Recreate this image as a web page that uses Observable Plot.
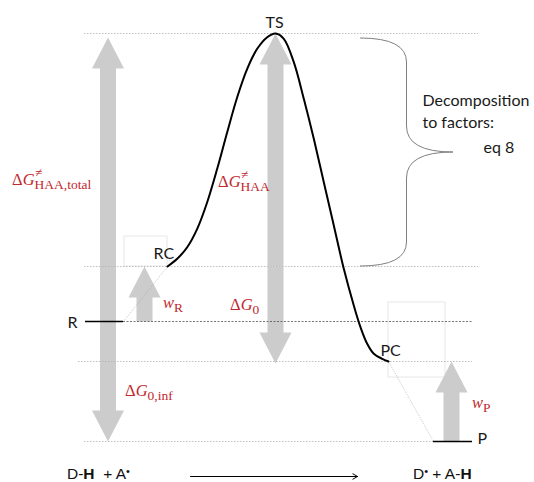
<!DOCTYPE html>
<html><head><meta charset="utf-8">
<script src="https://cdn.jsdelivr.net/npm/d3@7"></script>
<script src="https://cdn.jsdelivr.net/npm/@observablehq/plot@0.6"></script>
<style>
html,body{margin:0;padding:0;background:#fff;}
#chart svg{display:block;}
</style>
</head><body><div id="chart"></div>
<script>
// ---- Stationary points (reaction coordinate, relative free energy) ----
const stateNames  = ["R", "RC", "TS", "PC", "P"];
const stateCoord  = [10.4, 16.7, 27.5, 38.8, 45.2];
const stateEnergy = [0, 5.5, 28.8, -4.0, -12.0];

// ---- Free-energy profile RC -> TS -> PC ----
const profileCoord  = [16.7, 17.67, 18.67, 19.67, 20.67, 21.67, 22.67, 23.67, 24.67, 25.67, 26.67, 27.5, 28.33, 29.33, 30.33, 31.33, 32.33, 33.33, 34.33, 35.33, 36.0, 36.67, 37.33, 38.17, 38.8];
const profileEnergy = [5.5, 6.27, 7.43, 9.27, 11.93, 15.27, 18.93, 22.43, 25.27, 27.27, 28.43, 28.8, 28.27, 25.93, 22.27, 18.27, 13.93, 9.6, 5.27, 1.6, -0.57, -2.23, -3.23, -3.73, -4.0];

// ---- Separated reactants / products plateaus ----
const plateauNames = ["R", "P"];
const plateauStart = [8.5, 43.3];
const plateauEnd   = [12.3, 47.2];

// ---- Energy-difference arrows ----
const arrowNames = ["dGtotal", "dG0inf", "dGHAA", "dG0", "wR", "wP"];
const arrowCoord = [10.75, 10.75, 27.5, 27.5, 14.4, 45.1];
const arrowFrom  = [0, 0, 5.5, 5.5, 0, -12.0];
const arrowTo    = [28.4, -12.0, 28.8, -4.2, 5.5, -4.0];

// ---- Guide lines at each level ----
const guideLevel = [28.8, 5.5, -4.0, -12.0];
const guideStart = [8.4, 8.4, 7.8, 8.4];
const guideEnd   = [47.8, 47.8, 47.2, 47.2];

// ---- Text ----
const plainText  = ["TS", "RC", "R", "PC", "P", "Decomposition", "to factors:", "eq 8"];
const plainCoord = [26.5, 15.3, 6.7, 38.0, 47.7, 42.2, 42.2, 48.3];
const plainLevel = [29.9, 6.8, -0.1, -2.9, -11.7, 22.1, 19.9, 17.4];

const red = "#c0282d";
const gray = "#cccccc";

// build tables
const profile = profileCoord.map((x, i) => ({x, y: profileEnergy[i]}));
const plateaus = plateauNames.map((n, i) => ({n, x1: plateauStart[i], x2: plateauEnd[i], y: stateEnergy[stateNames.indexOf(n)]}));
const guides = guideLevel.map((y, i) => ({y, x1: guideStart[i], x2: guideEnd[i]}));
const rGuide = [{y: stateEnergy[0], x1: plateauEnd[0], x2: 47.2}];
const labels = plainText.map((t, i) => ({t, x: plainCoord[i], y: plainLevel[i]}));

const SHAFT = 0.8, HEAD = 1.6, HEADLEN = 3.1;
const arrowPoly = arrowNames.flatMap((id, i) => {
  const x = arrowCoord[i], y0 = arrowFrom[i], y1 = arrowTo[i];
  const d = Math.sign(y1 - y0), b = y1 - d * HEADLEN;
  return [[x - SHAFT, y0], [x - SHAFT, b], [x - HEAD, b], [x, y1], [x + HEAD, b], [x + SHAFT, b], [x + SHAFT, y0]]
    .map(([px, py]) => ({id, x: px, y: py}));
});

// faint construction boxes and diagonals
const boxes = [
  {x1: 12.4, x2: stateCoord[1], y1: stateEnergy[1], y2: 8.5},
  {x1: stateCoord[3], x2: 44.5, y1: -5.6, y2: 1.9}
];
const diagonals = [
  {x1: plateauEnd[0], y1: stateEnergy[0], x2: stateCoord[1], y2: stateEnergy[1]},
  {x1: stateCoord[3], y1: stateEnergy[3], x2: plateauStart[1], y2: stateEnergy[4]}
];

// rich (sub/superscript) labels
const rich = [
  {x: 1.2,  y: 13.6, parts: [["Δ"], ["G", "i"], ["≠", "sup"], ["HAA,total", "subAfterSup"]]},
  {x: 21.8, y: 13.4, parts: [["Δ"], ["G", "i"], ["≠", "sup"], ["HAA", "subAfterSup"]]},
  {x: 23.0, y: 1.1,  parts: [["Δ"], ["G", "i"], ["0", "sub"]]},
  {x: 12.5, y: -7.5, parts: [["Δ"], ["G", "i"], ["0,inf", "sub"]]},
  {x: 16.3, y: 1.3,  parts: [["w", "i"], ["R", "sub"]]},
  {x: 47.2, y: -8.7, parts: [["w", "i"], ["P", "sub"]]}
];
const eqs = [
  {x: 6.7,  y: -15.8, parts: [["D-"], ["H", "b"], ["  + A"], ["•", "dot"]]},
  {x: 41.3, y: -15.8, parts: [["D"], ["•", "dot"], [" + A-", "back"], ["H", "b"]]}
];

function richMark(index, scales) {
  const g = d3.create("svg:g").attr("text-anchor", "start");
  for (const L of rich) {
    const t = g.append("text")
      .attr("x", scales.x(L.x)).attr("y", scales.y(L.y))
      .attr("fill", red).attr("font-family", "'Liberation Serif', 'DejaVu Serif', serif")
      .attr("font-size", 16.5);
    for (const [s, k] of L.parts) {
      const sp = t.append("tspan").text(s);
      if (k === "i") sp.attr("font-style", "italic");
      if (k === "sup") sp.attr("font-size", 13).attr("dy", -8).attr("dx", 0.5);
      if (k === "subAfterSup") sp.attr("font-size", 13.5).attr("dx", -7.6).attr("dy", 12);
      if (k === "sub") sp.attr("font-size", 13.5).attr("dy", 4);
    }
  }
  for (const L of eqs) {
    const t = g.append("text")
      .attr("x", scales.x(L.x)).attr("y", scales.y(L.y))
      .attr("fill", "#111").attr("font-family", "'Liberation Sans', Arial, sans-serif")
      .attr("font-size", 15.5).style("white-space", "pre");
    for (const [s, k] of L.parts) {
      const sp = t.append("tspan").text(s);
      if (k === "b") sp.attr("font-weight", "bold");
      if (k === "dot") sp.attr("font-size", 11).attr("dy", -4);
      if (k === "back") sp.attr("dy", 4);
    }
  }
  return g.node();
}

function braceMark(index, scales) {
  const top = scales.y(stateEnergy[2]) + 5, bot = scales.y(stateEnergy[1]);
  const mid = (top + bot) / 2;
  const xL = scales.x(36.0), xV = scales.x(40.65), xT = scales.x(45.3);
  const r = 24, r2 = 26;
  const p = d3.path();
  p.moveTo(xL, top);
  p.quadraticCurveTo(xV, top, xV, top + r);
  p.lineTo(xV, mid - r2);
  p.quadraticCurveTo(xV, mid, xT, mid);
  p.quadraticCurveTo(xV, mid, xV, mid + r2);
  p.lineTo(xV, bot - r);
  p.quadraticCurveTo(xV, bot, xL, bot);
  return d3.create("svg:path").attr("d", p.toString())
    .attr("fill", "none").attr("stroke", "#808080").attr("stroke-width", 1).node();
}

const chart = Plot.plot({
  width: 534, height: 482, margin: 0,
  x: {domain: [0, 53.4], axis: null},
  y: {domain: [-16.1, 32.1], axis: null},
  style: {background: "white", overflow: "visible"},
  marks: [
    Plot.rect(boxes, {x1: "x1", x2: "x2", y1: "y1", y2: "y2", fill: "none", stroke: "#e2e2e2", strokeWidth: 0.8}),
    Plot.line(arrowPoly, {x: "x", y: "y", z: "id", fill: gray, stroke: "none", curve: "linear-closed"}),
    Plot.ruleY(guides, {y: "y", x1: "x1", x2: "x2", stroke: "#b0b0b0", strokeWidth: 0.8, strokeDasharray: "1.5,1.5"}),
    Plot.ruleY(rGuide, {y: "y", x1: "x1", x2: "x2", stroke: "#505050", strokeWidth: 0.8, strokeDasharray: "2,1.5"}),
    Plot.link(diagonals, {x1: "x1", y1: "y1", x2: "x2", y2: "y2", stroke: "#a0a0a0", strokeWidth: 0.6, strokeDasharray: "1,1.2"}),
    Plot.line(profile, {x: "x", y: "y", stroke: "black", strokeWidth: 2, curve: "catmull-rom"}),
    Plot.ruleY(plateaus, {y: "y", x1: "x1", x2: "x2", stroke: "black", strokeWidth: 1.6}),
    braceMark,
    Plot.text(labels, {x: "x", y: "y", text: "t", textAnchor: "start", fill: "#1a1a1a", fontSize: 16, fontFamily: "Lato, 'Open Sans', sans-serif"}),
    richMark,
    Plot.arrow([{x1: 19.0, x2: 35.7, y: -15.5}], {x1: "x1", x2: "x2", y1: "y", y2: "y", stroke: "black", strokeWidth: 1, headLength: 8})
  ]
});
document.getElementById("chart").appendChild(chart);
</script>
</body></html>
